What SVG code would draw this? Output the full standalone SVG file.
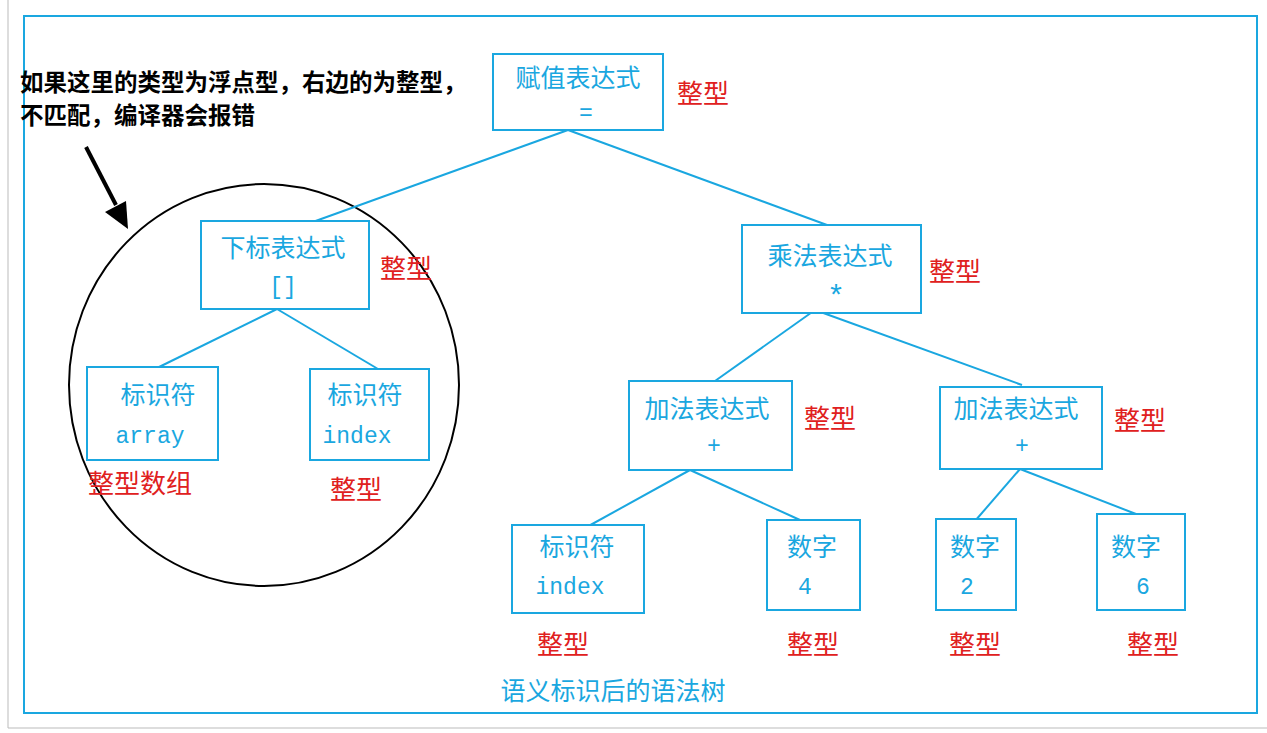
<svg xmlns="http://www.w3.org/2000/svg" width="1267" height="733" viewBox="0 0 1267 733">
<style>
.n{fill:#fff;stroke:#1aa7e0;stroke-width:2}
.t{font-family:"Noto Sans CJK SC",sans-serif;font-size:25px;fill:#1aa7e0;text-anchor:middle}
.m{font-family:"Liberation Mono","Noto Sans CJK SC",monospace;font-size:23px;fill:#1aa7e0;text-anchor:middle}
.r{font-family:"Noto Sans CJK SC",sans-serif;font-size:26px;fill:#e02020}
.b{font-family:"Noto Sans CJK SC",sans-serif;font-size:23.5px;font-weight:bold;fill:#000}
#edges line{stroke:#1aa7e0;stroke-width:2}
</style>
<rect width="1267" height="733" fill="#fff"/>
<line x1="8" y1="0" x2="8" y2="728" stroke="#bbb"/>
<line x1="8" y1="728" x2="1267" y2="728" stroke="#bbb"/>
<rect x="24" y="16" width="1233" height="697" fill="none" stroke="#1aa7e0" stroke-width="2"/>
<ellipse cx="264" cy="385" rx="195" ry="201" fill="none" stroke="#000" stroke-width="2"/>
<g id="edges">
<line x1="568" y1="130" x2="310" y2="223"/><line x1="568" y1="130" x2="827" y2="225"/>
<line x1="277" y1="309" x2="155" y2="369"/><line x1="277" y1="309" x2="378" y2="369"/>
<line x1="815" y1="310" x2="715" y2="381"/><line x1="815" y1="310" x2="1022" y2="385"/>
<line x1="690" y1="470" x2="585" y2="528"/><line x1="690" y1="470" x2="800" y2="520"/>
<line x1="1020" y1="469" x2="975" y2="521"/><line x1="1020" y1="469" x2="1136" y2="514"/>
<path d="M86,147L116,205" stroke="#000" stroke-width="4"/>
<path d="M105,212L128,229L126,201z" fill="#000"/>
</g>
<g id="n1"><rect class="n" x="493" y="54" width="170" height="76"/><text class="t" x="578" y="87">赋值表达式</text><text class="m" x="586" y="120">=</text></g>
<g id="n2"><rect class="n" x="201" y="221" width="168" height="88"/><text class="t" x="283" y="257">下标表达式</text><text class="m" x="283" y="294">[]</text></g>
<g id="n3"><rect class="n" x="742" y="225" width="179" height="88"/><text class="t" x="830" y="265">乘法表达式</text><text class="m" x="836" y="306" style="font-size:30px">*</text></g>
<g id="n4"><rect class="n" x="87" y="367" width="131" height="93"/><text class="t" x="158" y="404">标识符</text><text class="m" x="150" y="443">array</text></g>
<g id="n5"><rect class="n" x="310" y="369" width="119" height="91"/><text class="t" x="365" y="404">标识符</text><text class="m" x="357" y="443">index</text></g>
<g id="n6"><rect class="n" x="629" y="381" width="163" height="89"/><text class="t" x="707" y="418">加法表达式</text><text class="m" x="714" y="453">+</text></g>
<g id="n7"><rect class="n" x="940" y="387" width="162" height="82"/><text class="t" x="1016" y="418">加法表达式</text><text class="m" x="1022" y="453">+</text></g>
<g id="n8"><rect class="n" x="512" y="525" width="132" height="88"/><text class="t" x="577" y="556">标识符</text><text class="m" x="570" y="594">index</text></g>
<g id="n9"><rect class="n" x="767" y="520" width="93" height="90"/><text class="t" x="812" y="556">数字</text><text class="m" x="805" y="594">4</text></g>
<g id="n10"><rect class="n" x="936" y="519" width="80" height="91"/><text class="t" x="975" y="556">数字</text><text class="m" x="967" y="594">2</text></g>
<g id="n11"><rect class="n" x="1097" y="514" width="88" height="96"/><text class="t" x="1136" y="556">数字</text><text class="m" x="1143" y="594">6</text></g>
<g id="labels">
<text class="r" x="677" y="103">整型</text><text class="r" x="380" y="278">整型</text><text class="r" x="929" y="281">整型</text>
<text class="r" x="804" y="428">整型</text><text class="r" x="1114" y="430">整型</text>
<text class="r" x="88" y="493">整型数组</text><text class="r" x="330" y="499">整型</text>
<text class="r" x="537" y="654">整型</text><text class="r" x="787" y="654">整型</text><text class="r" x="949" y="654">整型</text><text class="r" x="1127" y="654">整型</text>
<text class="b" x="20" y="91">如果这里的类型为浮点型，右边的为整型，</text>
<text class="b" x="20" y="124">不匹配，编译器会报错</text>
<text class="t" x="613" y="700" style="font-size:25px">语义标识后的语法树</text>
</g>
</svg>
